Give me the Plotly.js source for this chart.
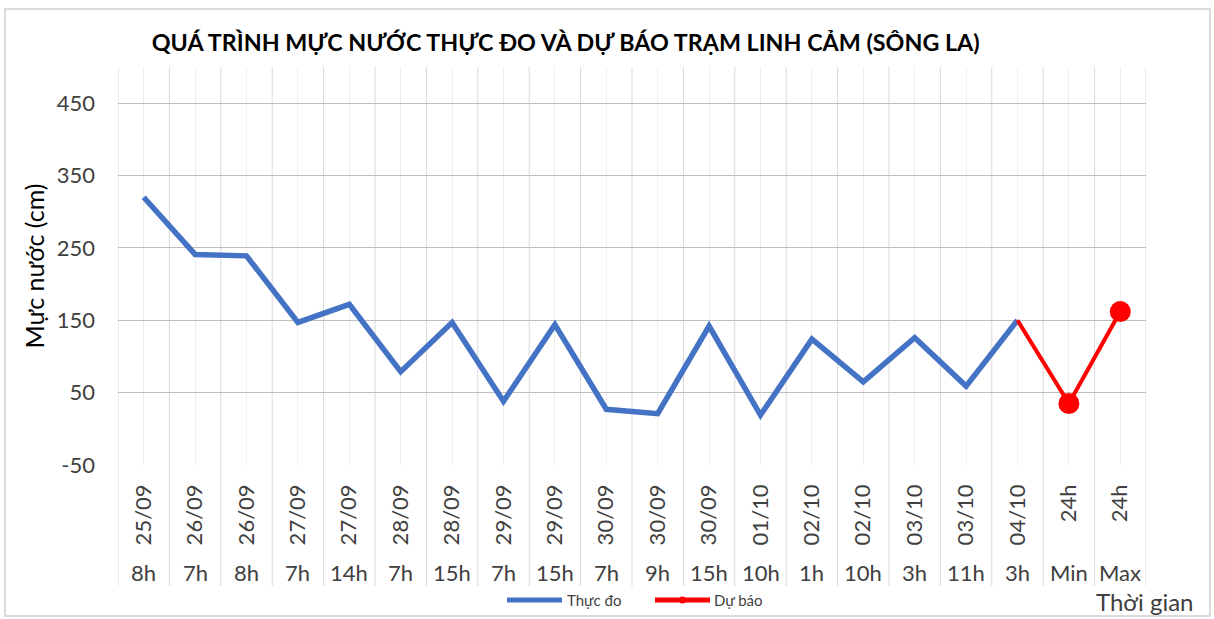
<!DOCTYPE html>
<html>
<head>
<meta charset="utf-8">
<script src="https://cdn.plot.ly/plotly-3.0.1.min.js"></script>
<style>html,body{margin:0;padding:0;background:#fff;}#chart{width:1214px;height:619px;}</style>
</head>
<body>
<div id="chart"></div>
<script>
// Category labels (two-level axis)
const dateLabels = ["25/09","26/09","26/09","27/09","27/09","28/09","28/09","29/09","29/09","30/09","30/09","30/09","01/10","02/10","02/10","03/10","03/10","04/10","24h","24h"];
const hourLabels = ["8h","7h","8h","7h","14h","7h","15h","7h","15h","7h","9h","15h","10h","1h","10h","3h","11h","3h","Min","Max"];
// Observed water level (cm)
const observed = [320, 241, 239, 147, 172, 79, 147, 38, 144, 27, 21, 142, 19, 124, 65, 126, 59, 150, null, null];
// Forecast water level (cm)
const forecast = [null, null, null, null, null, null, null, null, null, null, null, null, null, null, null, null, null, 150, 35, 162];
const yTicks = [-50, 50, 150, 250, 350, 450];
const seriesNames = ["Thực đo", "Dự báo"];
const seriesColors = ["#4472C4", "#FF0000"];

const idx = dateLabels.map((_, i) => i);
const FONT = "Lato, 'Open Sans', sans-serif";
const TXT = "#404040";

// pixel helpers for the paper area (margins fixed below)
const W = 1214, H = 619, ML = 118, MR = 68, MT = 67, MB = 154;
const PW = W - ML - MR, PH = H - MT - MB;
const px = x => (x - ML) / PW;
const py = y => (H - MB - y) / PH;

const traces = [
  {x: idx, y: observed, type: "scatter", mode: "lines", name: seriesNames[0],
   line: {color: seriesColors[0], width: 5.5}, showlegend: false},
  {x: idx, y: forecast, type: "scatter", mode: "lines+markers", name: seriesNames[1],
   line: {color: seriesColors[1], width: 4},
   marker: {color: seriesColors[1], opacity: 1, line: {width: 0},
            size: forecast.map((v, i) => (i === 17 ? 0 : 21))},
   showlegend: false}
];

const shapes = [];
// category boundary lines (plot area + label area)
for (let i = 0; i <= idx.length; i++) {
  shapes.push({type: "line", xref: "x", yref: "paper", x0: i - 0.5, x1: i - 0.5, y0: py(586), y1: 1,
    line: {color: "#d9d9d9", width: 1}, layer: "below"});
}
// chart frame
shapes.push({type: "rect", xref: "paper", yref: "paper", x0: px(5), x1: px(1210), y0: py(616), y1: py(9),
  line: {color: "#d0d0d0", width: 1.5}, layer: "below"});
// custom legend symbols
shapes.push({type: "line", xref: "paper", yref: "paper", x0: px(507), x1: px(562), y0: py(600), y1: py(600),
  line: {color: seriesColors[0], width: 5}});
shapes.push({type: "line", xref: "paper", yref: "paper", x0: px(655), x1: px(710), y0: py(600), y1: py(600),
  line: {color: seriesColors[1], width: 5}});
shapes.push({type: "circle", xref: "paper", yref: "paper", x0: px(679), x1: px(686), y0: py(603.5), y1: py(596.5),
  fillcolor: seriesColors[1], line: {width: 0}});

const annotations = hourLabels.map((h, i) => ({
  x: i, xref: "x", y: py(572), yref: "paper", text: h, showarrow: false,
  font: {family: FONT, size: 22, color: TXT}, xanchor: "center", yanchor: "middle"
}));
annotations.push({x: px(1145), xref: "paper", y: py(601), yref: "paper", text: "Thời gian", showarrow: false,
  font: {family: FONT, size: 24, color: TXT}, xanchor: "center", yanchor: "middle"});
annotations.push({x: px(565), xref: "paper", y: py(600), yref: "paper", text: seriesNames[0], showarrow: false,
  font: {family: FONT, size: 15, color: TXT}, xanchor: "left", yanchor: "middle"});
annotations.push({x: px(712), xref: "paper", y: py(600), yref: "paper", text: seriesNames[1], showarrow: false,
  font: {family: FONT, size: 15, color: TXT}, xanchor: "left", yanchor: "middle"});

const layout = {
  width: W, height: H,
  margin: {l: ML, r: MR, t: MT, b: MB},
  paper_bgcolor: "#fff", plot_bgcolor: "#fff",
  font: {family: FONT, color: TXT},
  title: {text: "<b>QUÁ TRÌNH MỰC NƯỚC THỰC ĐO VÀ DỰ BÁO TRẠM LINH CẢM (SÔNG LA)</b>",
    font: {family: FONT, size: 23.3, color: "#000"}, x: 0.466, xanchor: "center", y: 0.93, yanchor: "middle"},
  xaxis: {
    range: [-0.5, idx.length - 0.5], tickmode: "array", tickvals: idx, ticktext: dateLabels,
    tickangle: -90, tickfont: {family: FONT, size: 22, color: TXT},
    showgrid: true, gridcolor: "#efefef", gridwidth: 1, zeroline: false, showline: false,
    ticks: "", ticklabelstandoff: 14, fixedrange: true
  },
  yaxis: {
    range: [-50, 500], tickmode: "array", tickvals: yTicks, ticktext: yTicks.map(String),
    tickfont: {family: FONT, size: 22, color: TXT},
    showgrid: true, gridcolor: "#bfbfbf", gridwidth: 1, zeroline: false, showline: false,
    ticks: "", ticklabelstandoff: 22,
    title: {text: "Mực nước (cm)", font: {family: FONT, size: 25, color: "#000"}, standoff: 4},
    fixedrange: true
  },
  shapes: shapes,
  annotations: annotations,
  showlegend: false
};

Plotly.newPlot("chart", traces, layout, {displayModeBar: false, staticPlot: true});
</script>
</body>
</html>
